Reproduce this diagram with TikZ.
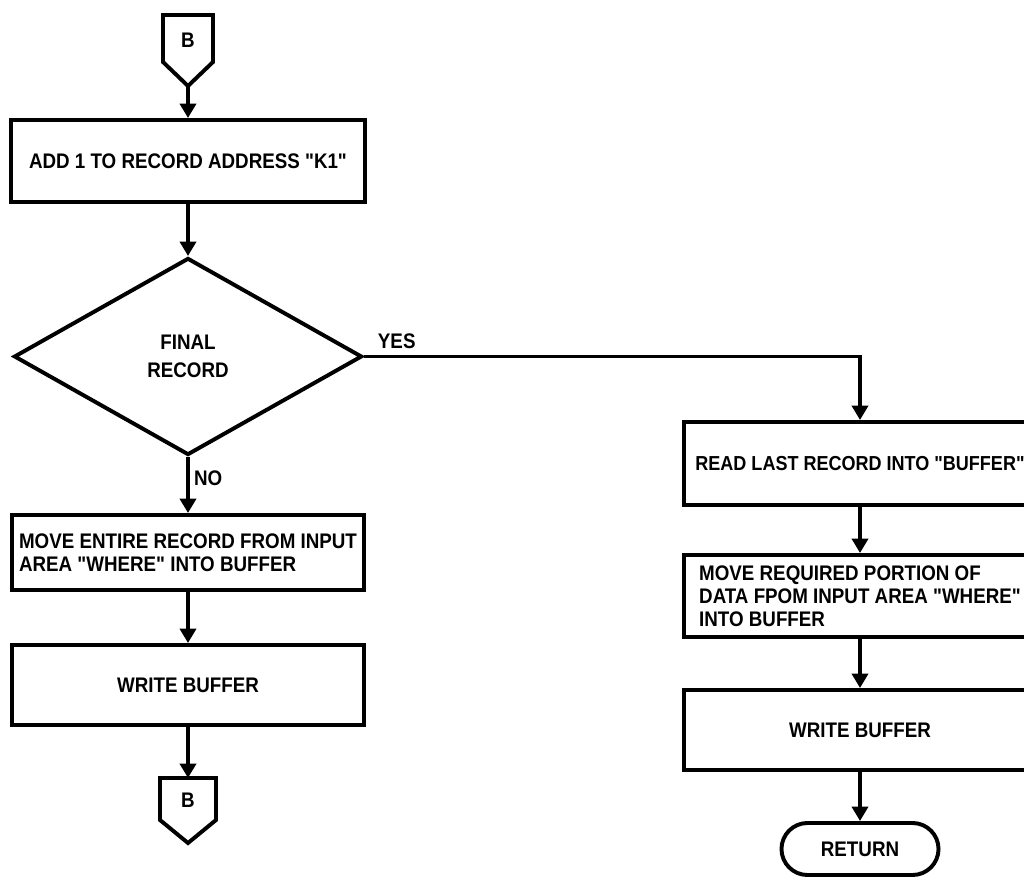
\documentclass[tikz,border=0pt]{standalone}
\usepackage{fontspec}
\newfontfamily\flowfont{Liberation Sans}[FakeStretch=0.89]
\usetikzlibrary{arrows.meta,shapes.geometric,shapes.misc}
\newcommand{\dq}{\char34\relax}
\begin{document}
\begin{tikzpicture}[x=0.025cm,y=-0.025cm,
  every node/.style={font=\flowfont\fontsize{15}{16.3}\selectfont\bfseries, text=black},
  proc/.style={draw, line width=2.8pt, rectangle, align=left, inner sep=0pt},
  dec/.style={draw, line width=2.8pt, diamond, align=center, inner sep=0pt,
    font=\flowfont\fontsize{15}{20}\selectfont\bfseries},
  term/.style={draw, line width=2.8pt, rounded rectangle, inner sep=0pt},
  conline/.style={draw, line width=2.8pt, line join=miter},
  flow/.style={draw, line width=2.8pt, -{Triangle[length=0.36cm,width=0.4cm]}},
  lbl/.style={font=\flowfont\fontsize{15}{16}\selectfont\bfseries, inner sep=1pt}
]
\fill[white] (0,0) rectangle (1024,878);
\useasboundingbox (0,0) rectangle (1024,878);

% top off-page connector B
\draw[conline] (163,15) -- (213,15) -- (213,62) -- (188,86) -- (163,62) -- cycle;
\node (bT) at (188,40) {B};
\coordinate (bTtip) at (188,86);

% left column
\node[proc, minimum width=8.85cm, minimum height=2.05cm] (b1) at (188,161)
  {ADD 1 TO RECORD ADDRESS "K1"};
\node[dec, minimum width=8.7cm, minimum height=4.925cm] (d) at (188,356.5)
  {FINAL\\RECORD};
\node[proc, minimum width=8.775cm, minimum height=1.875cm] (b2) at (188,552.5)
  {MOVE ENTIRE RECORD FROM INPUT\\AREA "WHERE" INTO BUFFER};
\node[proc, minimum width=8.775cm, minimum height=2cm] (b3) at (188,685)
  {WRITE BUFFER};

% bottom off-page connector B
\draw[conline] (160,778) -- (216,778) -- (216,820) -- (188,843) -- (160,820) -- cycle;
\node (bB) at (188,800) {B};
\coordinate (bBtop) at (188,778);

% right column
\node[proc, minimum width=8.8cm, minimum height=2.075cm,
  font=\flowfont\fontsize{14.4}{16}\selectfont\bfseries] (b4) at (860,463.5)
  {READ LAST RECORD INTO "BUFFER"};
\node[proc, minimum width=8.8cm, minimum height=2.05cm] (b5) at (860,596)
  {MOVE REQUIRED PORTION OF\\DATA FPOM INPUT AREA "WHERE"\\INTO BUFFER};
\node[proc, minimum width=8.8cm, minimum height=2cm] (b6) at (860,730)
  {WRITE BUFFER};
\node[term, minimum width=3.925cm, minimum height=1.3cm] (ret) at (860,849)
  {RETURN};

% connectors
\draw[flow] (bTtip) -- (b1.north);
\draw[flow] (b1.south) -- (d.north);
\draw[flow] (d.south) -- node[lbl, pos=0.38, anchor=west, xshift=2pt] {NO} (b2.north);
\draw[flow] (b2.south) -- (b3.north);
\draw[flow] (b3.south) -- (bBtop);
\draw[flow] (d.east) -| node[lbl, pos=0.033, above=3pt] {YES} (b4.north);
\draw[flow] (b4.south) -- (b5.north);
\draw[flow] (b5.south) -- (b6.north);
\draw[flow] (b6.south) -- (ret.north);
\end{tikzpicture}
\end{document}
